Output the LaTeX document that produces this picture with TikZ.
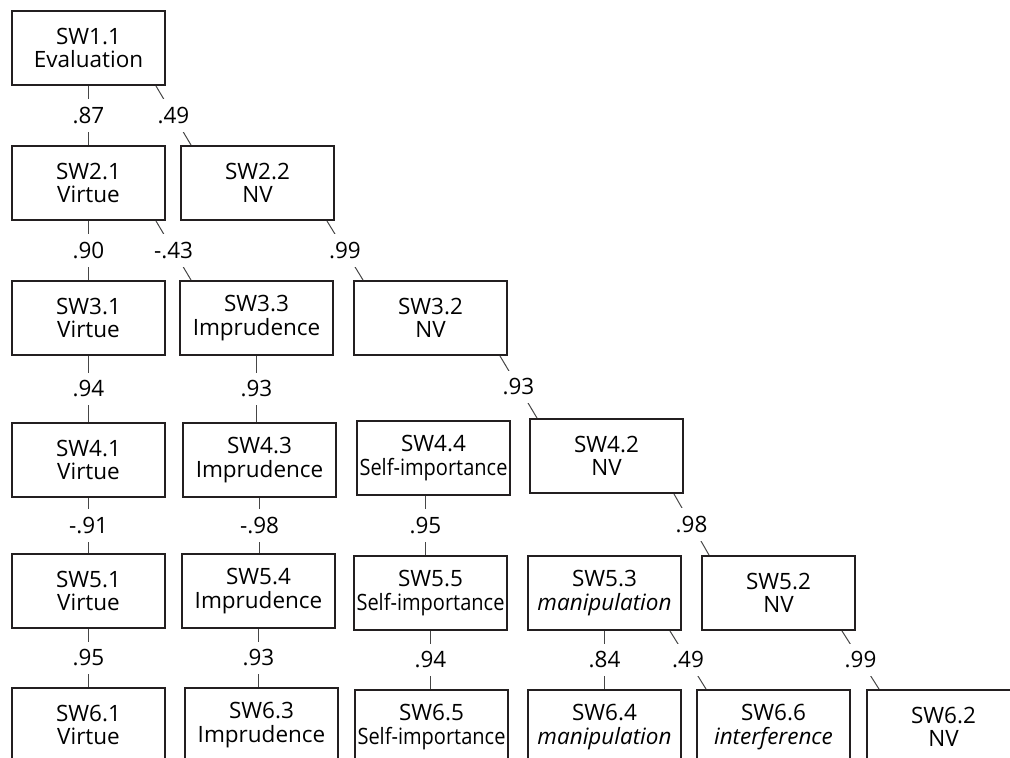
\documentclass[tikz,border=0pt]{standalone}
\usepackage{xcolor}
\usepackage{graphicx}
\usepackage{fontspec}
\setmainfont{Open Sans}
\usepackage{tikz}
\usetikzlibrary{positioning}
\definecolor{boxline}{RGB}{35,31,32}
\definecolor{linkgray}{RGB}{70,70,70}
\newcommand{\squeezed}[1]{\scalebox{0.89}[1]{#1}}
\tikzset{
	% Specifications for style of nodes:
	box/.style = {rectangle,
	minimum width=3.825cm, minimum height=1.85cm,
	draw=boxline, line width=0.5mm, inner sep=0pt,
	text centered},
	lbl/.style = {inner xsep=0.05cm, inner ysep=0.2cm},
	link/.style = {draw=linkgray, line width=0.25mm},
}
\begin{document}
\begin{tikzpicture}[every node/.style={fill=white, font=\fontsize{16}{16.5}\selectfont}, align=center]
		\useasboundingbox (0,0) rectangle (25.25,-18.925);
		\clip (0,0) rectangle (25.25,-18.925);
		% row 1
		\node (sw11)[box, anchor=north west] at (0.275,-0.25) {SW1.1\\Evaluation};
		% row 2
		\node (sw21)[box, below=1.475cm of sw11]{SW2.1\\Virtue};
		\node (sw22)[box, right=0.35cm of sw21]{SW2.2\\NV};
		% row 3
		\node (sw31)[box, below=1.475cm of sw21]{SW3.1\\Virtue};
		\node (sw33)[box, right=0.325cm of sw31]{SW3.3\\Imprudence};
		\node (sw32)[box, right=0.475cm of sw33]{SW3.2\\NV};
		% row 4
		\node (sw41)[box, below=1.65cm of sw31]{SW4.1\\Virtue};
		\node (sw43)[box, right=0.4cm of sw41]{SW4.3\\Imprudence};
		\node (sw44)[box, right=0.475cm of sw43, yshift=0.05cm]{SW4.4\\\squeezed{Self-importance}};
		\node (sw42)[box, right=0.45cm of sw44, yshift=0.05cm]{SW4.2\\NV};
		% row 5
		\node (sw51)[box, below=1.375cm of sw41]{SW5.1\\Virtue};
		\node (sw54)[box, right=0.375cm of sw51]{SW5.4\\Imprudence};
		\node (sw55)[box, right=0.425cm of sw54, yshift=-0.05cm]{SW5.5\\\squeezed{Self-importance}};
		\node (sw53)[box, right=0.475cm of sw55]{SW5.3\\\textit{manipulation}};
		\node (sw52)[box, right=0.475cm of sw53]{SW5.2\\NV};
		% row 6
		\node (sw61)[box, below=1.45cm of sw51]{SW6.1\\Virtue};
		\node (sw63)[box, right=0.45cm of sw61]{SW6.3\\Imprudence};
		\node (sw65)[box, right=0.375cm of sw63, yshift=-0.05cm]{SW6.5\\\squeezed{Self-importance}};
		\node (sw64)[box, right=0.45cm of sw65]{SW6.4\\\textit{manipulation}};
		\node (sw66)[box, right=0.35cm of sw64]{SW6.6\\\textit{interference}};
		\node (sw62)[box, right=0.375cm of sw66]{SW6.2\\NV};
		% draw links with loadings
		\draw[link](sw11.south) -- node[lbl]{.87} (sw11.south |- sw21.north);
		\draw[link]([xshift=-0.25cm]sw11.south east) -- node[lbl]{.49} ([xshift=0.275cm]sw22.north west);
		\draw[link](sw21.south) -- node[lbl]{.90} (sw21.south |- sw31.north);
		\draw[link]([xshift=-0.25cm]sw21.south east) -- node[lbl]{-.43} ([xshift=0.3cm]sw33.north west);
		\draw[link]([xshift=-0.2cm]sw22.south east) -- node[lbl]{.99} ([xshift=0.25cm]sw32.north west);
		\draw[link](sw31.south) -- node[lbl]{.94} (sw31.south |- sw41.north);
		\draw[link](sw33.south) -- node[lbl]{.93} (sw33.south |- sw43.north);
		\draw[link]([xshift=-0.2cm]sw32.south east) -- node[lbl]{.93} ([xshift=0.2cm]sw42.north west);
		\draw[link](sw41.south) -- node[lbl]{-.91} (sw41.south |- sw51.north);
		\draw[link](sw43.south) -- node[lbl]{-.98} (sw43.south |- sw54.north);
		\draw[link]([xshift=-0.2cm]sw44.south) -- node[lbl]{.95} ([xshift=-0.2cm]sw44.south |- sw55.north);
		\draw[link]([xshift=-0.25cm]sw42.south east) -- node[lbl]{.98} ([xshift=0.2cm]sw52.north west);
		\draw[link](sw51.south) -- node[lbl]{.95} (sw51.south |- sw61.north);
		\draw[link](sw54.south) -- node[lbl]{.93} (sw54.south |- sw63.north);
		\draw[link](sw55.south) -- node[lbl]{.94} (sw55.south |- sw65.north);
		\draw[link](sw53.south) -- node[lbl]{.84} (sw53.south |- sw64.north);
		\draw[link]([xshift=-0.3cm]sw53.south east) -- node[lbl]{.49} ([xshift=0.25cm]sw66.north west);
		\draw[link]([xshift=-0.35cm]sw52.south east) -- node[lbl]{.99} ([xshift=0.325cm]sw62.north west);
\end{tikzpicture}
\end{document}
